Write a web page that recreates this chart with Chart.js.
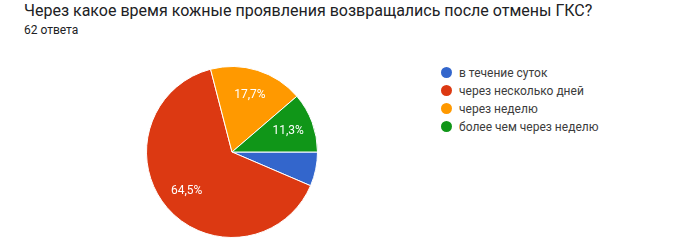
<!DOCTYPE html>
<html>
<head>
<meta charset="utf-8">
<script src="https://cdn.jsdelivr.net/npm/chart.js@4"></script>
<style>
  body { margin:0; background:#fff; font-family: Roboto, Arial, sans-serif; }
  #wrap { position:relative; width:700px; height:245px; overflow:hidden; }
  #title { position:absolute; left:24px; top:1px; font-size:16px; color:#202124; white-space:nowrap; }
  #count { position:absolute; left:24px; top:23px; font-size:12px; color:#202124; }
  #chartBox { position:absolute; left:146px; top:66px; width:172px; height:172px; }
  #legend { position:absolute; left:441px; top:64px; font-size:12px; color:#3c3c3c; }
  .item { height:18px; line-height:18px; white-space:nowrap; }
  .dot { display:inline-block; width:11px; height:11px; border-radius:50%; vertical-align:-1px; margin-right:7px; }
</style>
</head>
<body>
<div id="wrap">
  <div id="title">Через какое время кожные проявления возвращались после отмены ГКС?</div>
  <div id="count">62 ответа</div>
  <div id="chartBox"><canvas id="pie"></canvas></div>
  <div id="legend"></div>
</div>
<script>
// --- Dados
const categorias = ["в течение суток", "через несколько дней", "через неделю", "более чем через неделю"];
const respostas = [4, 40, 11, 7];
const rotulos = ["6,5%", "64,5%", "17,7%", "11,3%"];
const cores = ["#3366cc", "#dc3912", "#ff9900", "#109618"];

// --- Legenda HTML
const legend = document.getElementById("legend");
categorias.forEach((c, i) => {
    const d = document.createElement("div");
    d.className = "item";
    d.innerHTML = '<span class="dot" style="background:' + cores[i] + '"></span>' + c;
    legend.appendChild(d);
});

// --- Rótulos dentro das fatias
const rotuloPlugin = {
    id: "rotulos",
    afterDatasetsDraw(chart) {
        const ctx = chart.ctx;
        const meta = chart.getDatasetMeta(0);
        ctx.save();
        ctx.font = "12px Roboto, Arial, sans-serif";
        ctx.fillStyle = "#ffffff";
        ctx.textAlign = "center";
        ctx.textBaseline = "middle";
        meta.data.forEach((arc, i) => {
            if (respostas[i] / 62 < 0.08) return;
            const p = arc.getProps(["x", "y", "startAngle", "endAngle", "outerRadius"], true);
            const mid = (p.startAngle + p.endAngle) / 2;
            const r = p.outerRadius * 0.7;
            ctx.fillText(rotulos[i], p.x + Math.cos(mid) * r, p.y + Math.sin(mid) * r);
        });
        ctx.restore();
    }
};

new Chart(document.getElementById("pie"), {
    type: "pie",
    data: {
        labels: categorias,
        datasets: [{
            data: respostas,
            backgroundColor: cores,
            borderColor: "#ffffff",
            borderWidth: 1
        }]
    },
    options: {
        responsive: true,
        maintainAspectRatio: false,
        animation: false,
        rotation: 90,
        layout: { padding: 0 },
        plugins: { legend: { display: false }, tooltip: { enabled: false } }
    },
    plugins: [rotuloPlugin]
});
</script>
</body>
</html>
